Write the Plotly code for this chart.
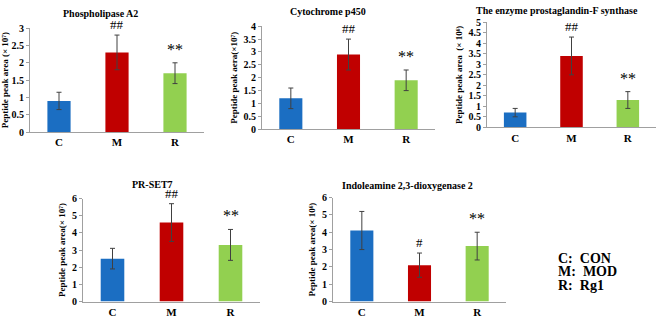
import plotly.graph_objects as go

categories = ["C", "M", "R"]
colors = ["#1B6EC2", "#C00000", "#92D050"]

titles = ["Phospholipase A2", "Cytochrome p450", "The enzyme prostaglandin-F synthase",
          "PR-SET7", "Indoleamine 2,3-dioxygenase 2"]
ytitles = ["Peptide peak area (× 10⁷)", "Peptide peak aera(×10⁷)", "Peptide peak area  (× 10⁶)",
           "Peptide peak area(× 10⁷)", "Peptide peak area(× 10⁶)"]

pla2_vals = [0.9, 2.3, 1.7]
pla2_err = [0.25, 0.5, 0.3]
cyp_vals = [1.2, 2.9, 1.9]
cyp_err = [0.4, 0.6, 0.4]
pgfs_vals = [0.7, 3.4, 1.3]
pgfs_err = [0.2, 0.9, 0.4]
prset_vals = [2.5, 4.6, 3.3]
prset_err = [0.6, 1.1, 0.9]
ido_vals = [4.1, 2.1, 3.2]
ido_err = [1.1, 0.7, 0.8]

pla2_sig = ["", "##", "**"]
cyp_sig = ["", "##", "**"]
pgfs_sig = ["", "##", "**"]
prset_sig = ["", "##", "**"]
ido_sig = ["", "#", "**"]

y_max = [3, 4, 5, 6, 6]
y_dtick = [0.5, 0.5, 0.5, 1, 1]
y_fmt = [".1~f", ".1~f", ".1~f", "d", "d"]

legend_lines = ["C:  CON", "M:  MOD", "R:  Rg1"]

series = [
    (pla2_vals, pla2_err, pla2_sig),
    (cyp_vals, cyp_err, cyp_sig),
    (pgfs_vals, pgfs_err, pgfs_sig),
    (prset_vals, prset_err, prset_sig),
    (ido_vals, ido_err, ido_sig),
]

W, H = 657, 322
# panel geometry in pixels: (x_left, x_right, y_bottom, y_top)
px_geom = [
    (30, 204, 131, 23),
    (262, 435, 128, 21),
    (487, 656, 126, 17),
    (83, 260, 307, 200),
    (333, 506, 307, 199),
]
title_pos = [(100, 8), (328, 6), (557, 5), (152, 185), (407, 186)]

FONT = "Liberation Serif"
fig = go.Figure()
annotations = []

for i, ((vals, errs, sigs), geom) in enumerate(zip(series, px_geom)):
    xl, xr, yb, yt = geom
    xa = "x" if i == 0 else f"x{i+1}"
    ya = "y" if i == 0 else f"y{i+1}"
    fig.add_trace(go.Bar(
        x=categories, y=vals,
        marker=dict(color=colors, line=dict(width=0)),
        error_y=dict(type="data", array=errs, visible=True, color="#404040",
                     thickness=1, width=2.5),
        xaxis=xa, yaxis=ya, showlegend=False,
    ))
    axkey = "xaxis" if i == 0 else f"xaxis{i+1}"
    aykey = "yaxis" if i == 0 else f"yaxis{i+1}"
    fig.update_layout(**{
        axkey: dict(domain=[xl / W, xr / W], anchor=ya, range=[-0.5, 2.5],
                    showline=True, linecolor="#a0a0a0", linewidth=1,
                    ticks="", showgrid=False, zeroline=False,
                    tickfont=dict(family=FONT, size=11, color="#000000", weight="bold"),
                    fixedrange=True),
        aykey: dict(domain=[1 - yb / H, 1 - yt / H], anchor=xa, range=[0, y_max[i]],
                    dtick=y_dtick[i], tickformat=y_fmt[i],
                    showline=True, linecolor="#a0a0a0", linewidth=1,
                    ticks="outside", ticklen=3, tickcolor="#a0a0a0",
                    showgrid=False, zeroline=False,
                    tickfont=dict(family=FONT, size=10, color="#000000", weight="bold"),
                    title=dict(text=ytitles[i], standoff=4,
                               font=dict(family=FONT, size=9, color="#000000", weight="bold")),
                    fixedrange=True),
    })
    for c, v, e, s in zip(categories, vals, errs, sigs):
        if s:
            is_star = s.startswith("*")
            annotations.append(dict(
                x=c, y=v + e, xref=xa, yref=ya, text=s, showarrow=False,
                yanchor="bottom", yshift=3 if is_star else 1,
                font=dict(family=FONT, size=16 if is_star else 13,
                          color="#000000"),
            ))
    tx, ty = title_pos[i]
    annotations.append(dict(
        x=tx / W, y=1 - ty / H, xref="paper", yref="paper", text=titles[i],
        showarrow=False, xanchor="center", yanchor="middle",
        font=dict(family=FONT, size=10, color="#000000", weight="bold"),
    ))

for j, line in enumerate(legend_lines):
    annotations.append(dict(
        x=556 / W, y=1 - (262 + 14 * j) / H, xref="paper", yref="paper",
        text=line, showarrow=False, xanchor="left", yanchor="middle",
        font=dict(family=FONT, size=14, color="#000000", weight="bold"),
    ))

fig.update_layout(
    width=W, height=H, margin=dict(l=0, r=0, t=0, b=0),
    paper_bgcolor="white", plot_bgcolor="white",
    bargap=0.6, annotations=annotations,
)

fig.write_html("out.html", config={"displayModeBar": False},
               post_script="document.body.style.margin='0';document.body.style.overflow='hidden';")
